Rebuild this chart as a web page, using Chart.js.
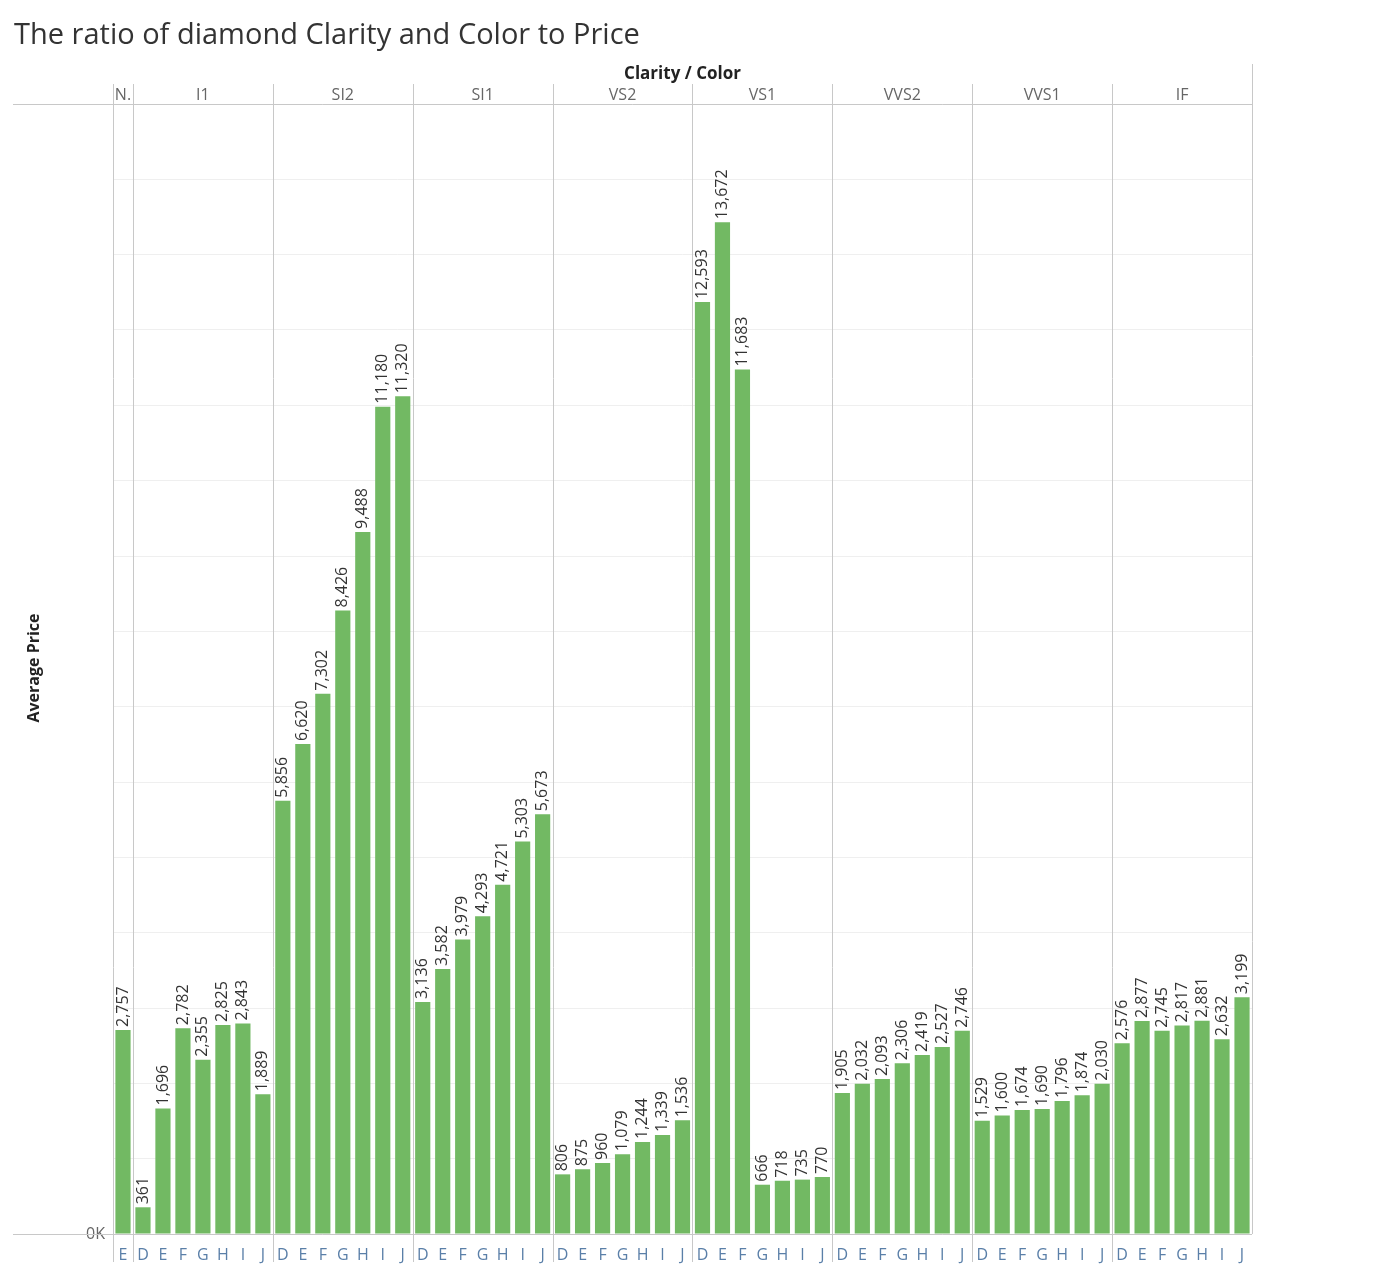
<!DOCTYPE html>
<html><head><meta charset="utf-8">
<script src="https://cdn.jsdelivr.net/npm/chart.js@4/dist/chart.umd.min.js"></script>
<style>html,body{margin:0;padding:0;background:#fff}#w{width:1388px;height:1275px}</style>
</head><body><div id="w"><canvas id="c"></canvas></div>
<script>
const clarities = ["N.","I1","SI2","SI1","VS2","VS1","VVS2","VVS1","IF"];
const colorsN = ["E"];
const colorsAll = ["D","E","F","G","H","I","J"];
const valN = [2757];
const valI1 = [361,1696,2782,2355,2825,2843,1889];
const valSI2 = [5856,6620,7302,8426,9488,11180,11320];
const valSI1 = [3136,3582,3979,4293,4721,5303,5673];
const valVS2 = [806,875,960,1079,1244,1339,1536];
const valVS1 = [12593,13672,11683,666,718,735,770];
const valVVS2 = [1905,2032,2093,2306,2419,2527,2746];
const valVVS1 = [1529,1600,1674,1690,1796,1874,2030];
const valIF = [2576,2877,2745,2817,2881,2632,3199];
const groups = [valN,valI1,valSI2,valSI1,valVS2,valVS1,valVVS2,valVVS1,valIF];

const labels=[], values=[], groupIdx=[];
groups.forEach((g,gi)=>{ const cs = gi===0?colorsN:colorsAll; g.forEach((v,i)=>{labels.push(cs[i]);values.push(v);groupIdx.push(gi);}); });

const F='"Open Sans", "Noto Sans", sans-serif';
const deco={id:'deco',
 afterDraw(ch){
  const c=ch.ctx, a=ch.chartArea, xs=ch.scales.x, meta=ch.getDatasetMeta(0);
  c.save();
  c.fillStyle='#333'; c.font='29px '+F; c.textBaseline='middle'; c.textAlign='left';
  c.fillText('The ratio of diamond Clarity and Color to Price',14,36);
  c.font='bold 17px '+F; c.textAlign='center'; c.fillStyle='#222';
  c.fillText('Clarity / Color',(a.left+a.right)/2,74);
  c.strokeStyle='#c8c8c8'; c.lineWidth=1;
  const half=(xs.getPixelForValue(1)-xs.getPixelForValue(0))/2;
  // group boundaries
  let start=0;
  groups.forEach((g,gi)=>{
    const x0=xs.getPixelForValue(start)-half, x1=xs.getPixelForValue(start+g.length-1)+half;
    c.fillStyle='#666'; c.font='16px '+F;
    c.fillText(clarities[gi],(x0+x1)/2,95);
    c.beginPath(); c.moveTo(Math.round(x0)+0.5,gi===0?84:84); c.lineTo(Math.round(x0)+0.5,1262); c.stroke();
    start+=g.length;
  });
  c.beginPath(); c.moveTo(Math.round(a.right)+0.5,64); c.lineTo(Math.round(a.right)+0.5,a.bottom); c.stroke();
  c.beginPath(); c.moveTo(13,104.5); c.lineTo(a.right,104.5); c.stroke();
  c.beginPath(); c.moveTo(13,Math.round(a.bottom)+0.5); c.lineTo(a.right,Math.round(a.bottom)+0.5); c.stroke();
  // y title
  c.save(); c.translate(34,668); c.rotate(-Math.PI/2); c.font='bold 16px '+F; c.fillStyle='#222'; c.fillText('Average Price',0,0); c.restore();
  // data labels
  c.font='16px '+F; c.fillStyle='#333'; c.textAlign='left'; c.textBaseline='middle';
  meta.data.forEach((b,i)=>{
    c.save(); c.translate(b.x,b.y-3); c.rotate(-Math.PI/2);
    c.fillText(values[i].toLocaleString('en-US'),0,0); c.restore();
  });
  c.restore();
 }};
new Chart(document.getElementById('c'),{
 type:'bar',
 data:{labels,datasets:[{data:values,backgroundColor:'#72b963',barPercentage:0.76,categoryPercentage:1}]},
 options:{responsive:true,maintainAspectRatio:false,animation:false,
  layout:{padding:{top:104,right:136,left:0,bottom:0}},
  plugins:{legend:{display:false},tooltip:{enabled:false}},
  scales:{
   x:{grid:{display:false},border:{display:false},
      ticks:{color:'#5a7fa8',font:{size:16,family:F},maxRotation:0,autoSkip:false,padding:4},
      afterFit(s){s.height=41;}},
   y:{min:0,max:15270,grid:{color:'#efefef',drawTicks:false},border:{display:false},
      ticks:{stepSize:1000,color:'#666',font:{size:16,family:F},padding:8,
        callback:v=>v%1000===0?(v/1000)+'K':''},
      afterFit(s){s.width=113;}}
  }},
 plugins:[deco]
});
</script></body></html>
